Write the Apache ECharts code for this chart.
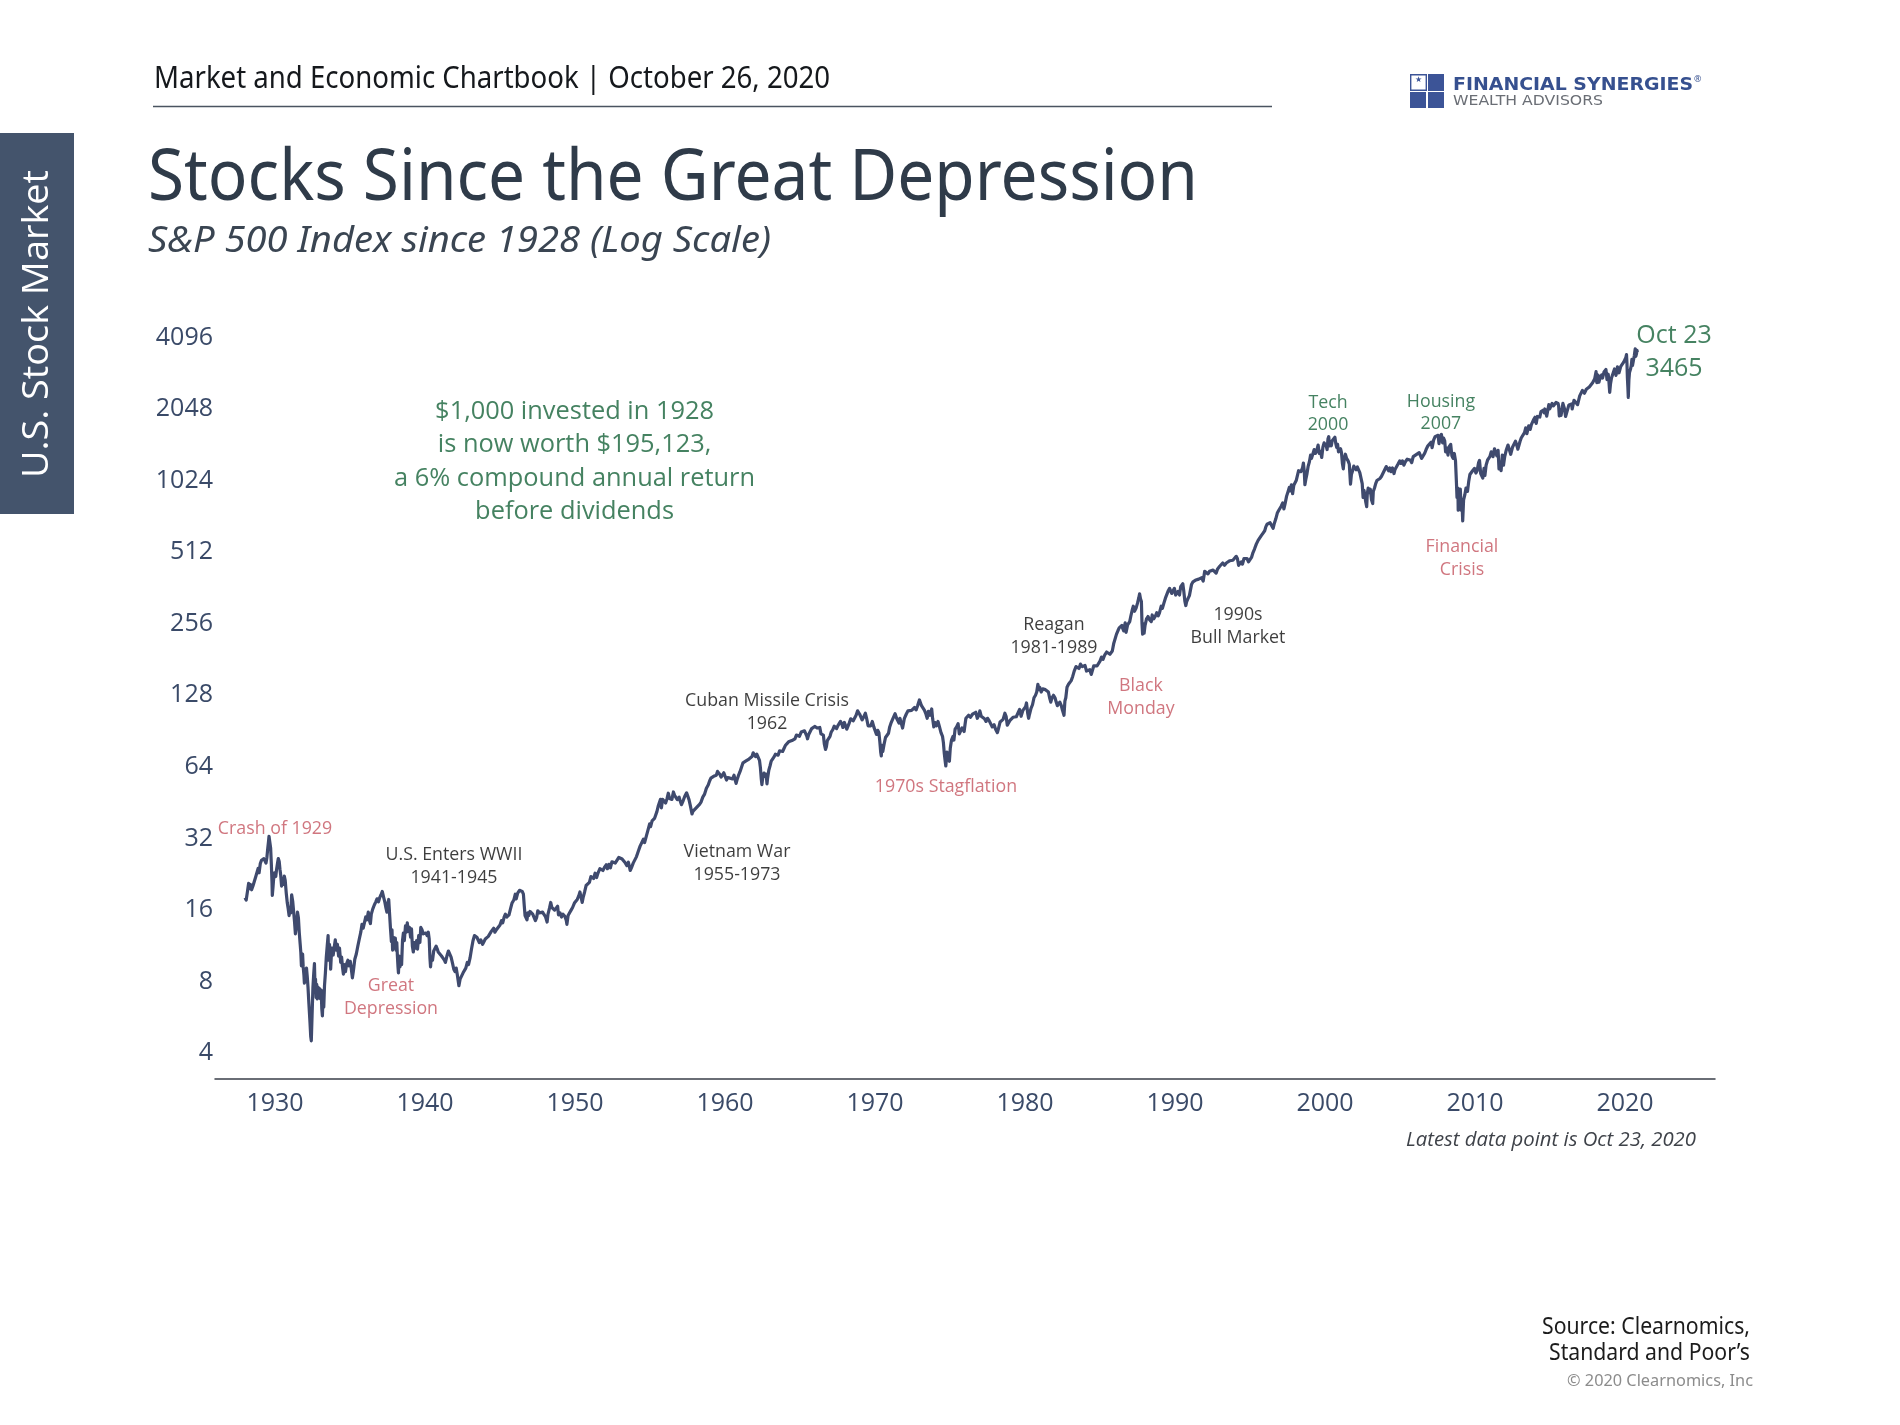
<!DOCTYPE html>
<html><head><meta charset="utf-8"><title>Stocks Since the Great Depression</title>
<script src="https://cdn.jsdelivr.net/npm/echarts@6/dist/echarts.min.js"></script>
<style>html,body{margin:0;padding:0;background:#fff}#c{width:1900px;height:1425px}</style></head>
<body><div id="c"></div>
<script>
const xTicks=[1930,1940,1950,1960,1970,1980,1990,2000,2010,2020];
const yTicks=[4,8,16,32,64,128,256,512,1024,2048,4096];
const d1920s=[[1928.00,17.6],[1928.08,17.2],[1928.17,18.8],[1928.24,20.2],[1928.30,19.2],[1928.37,20.0],[1928.44,19.0],[1928.53,19.7],[1928.62,20.6],[1928.72,21.6],[1928.80,22.0],[1928.88,23.4],[1928.94,22.4],[1929.02,24.5],[1929.10,25.3],[1929.18,24.9],[1929.26,25.7],[1929.34,25.9],[1929.40,24.6],[1929.46,26.0],[1929.52,28.5],[1929.57,30.4],[1929.60,31.9],[1929.66,30.0],[1929.71,28.4],[1929.76,24.0],[1929.80,20.4],[1929.82,18.0],[1929.87,19.6],[1929.92,21.6],[1929.97,22.4]];
const d1930s=[[1930.05,21.6],[1930.10,23.0],[1930.17,24.6],[1930.22,25.7],[1930.28,25.0],[1930.33,23.2],[1930.38,21.9],[1930.44,19.7],[1930.50,20.6],[1930.55,20.0],[1930.62,21.7],[1930.68,20.8],[1930.75,18.4],[1930.82,16.7],[1930.88,15.8],[1930.94,14.8],[1931.00,15.9],[1931.05,15.2],[1931.11,18.1],[1931.18,17.0],[1931.24,16.8],[1931.30,14.0],[1931.36,12.4],[1931.43,13.4],[1931.50,15.3],[1931.56,14.5],[1931.62,12.5],[1931.68,11.2],[1931.72,10.4],[1931.76,9.1],[1931.80,9.0],[1931.84,10.2],[1931.88,9.0],[1931.93,8.3],[1931.96,7.7],[1932.00,7.6],[1932.05,8.2],[1932.10,8.9],[1932.15,8.2],[1932.20,7.4],[1932.26,6.3],[1932.33,5.3],[1932.38,4.6],[1932.42,4.4],[1932.47,5.6],[1932.53,7.4],[1932.58,8.4],[1932.63,9.3],[1932.67,7.3],[1932.70,8.0],[1932.74,6.7],[1932.78,7.6],[1932.82,6.6],[1932.87,7.4],[1932.92,6.9],[1932.97,7.3],[1933.03,6.6],[1933.08,7.2],[1933.12,6.0],[1933.16,5.6],[1933.20,6.6],[1933.25,6.1],[1933.30,7.5],[1933.36,8.5],[1933.42,9.9],[1933.48,11.0],[1933.54,12.2],[1933.58,9.6],[1933.63,11.2],[1933.68,10.4],[1933.71,8.8],[1933.75,9.9],[1933.80,10.8],[1933.88,10.1],[1933.94,10.8],[1934.02,11.7],[1934.08,10.6],[1934.16,11.2],[1934.24,10.0],[1934.30,10.8],[1934.38,9.4],[1934.44,9.9],[1934.50,9.0],[1934.56,8.4],[1934.62,9.2],[1934.70,8.6],[1934.78,9.3],[1934.86,9.6],[1934.94,9.1],[1935.02,9.5],[1935.08,8.9],[1935.16,8.1],[1935.22,8.6],[1935.32,9.7],[1935.42,10.2],[1935.52,11.0],[1935.62,11.8],[1935.72,12.6],[1935.80,13.6],[1935.88,13.1],[1935.96,13.8],[1936.05,14.6],[1936.13,14.2],[1936.22,15.3],[1936.30,14.1],[1936.36,13.7],[1936.42,15.0],[1936.52,15.8],[1936.62,16.4],[1936.72,16.9],[1936.80,17.4],[1936.90,16.9],[1936.98,17.6],[1937.07,18.1],[1937.15,18.7],[1937.24,17.7],[1937.32,16.9],[1937.40,15.9],[1937.46,15.3],[1937.52,16.6],[1937.58,17.3],[1937.64,15.0],[1937.70,13.0],[1937.76,11.5],[1937.80,12.9],[1937.84,10.6],[1937.90,12.0],[1937.96,10.8],[1938.02,11.9],[1938.07,10.6],[1938.12,11.4],[1938.16,10.0],[1938.20,9.0],[1938.23,8.5],[1938.28,10.0],[1938.33,9.0],[1938.38,9.9],[1938.44,9.2],[1938.50,11.6],[1938.56,12.5],[1938.62,11.6],[1938.70,13.4],[1938.76,12.6],[1938.82,13.8],[1938.88,12.7],[1938.96,13.2],[1939.04,12.0],[1939.10,13.0],[1939.16,11.0],[1939.22,10.4],[1939.30,11.4],[1939.38,10.8],[1939.44,11.6],[1939.50,10.7],[1939.58,12.2],[1939.66,11.4],[1939.72,13.2],[1939.80,12.9],[1939.88,12.4],[1939.96,12.6]];
const d1940s=[[1940.06,12.5],[1940.14,12.2],[1940.22,12.6],[1940.28,11.8],[1940.33,9.8],[1940.37,9.0],[1940.42,9.9],[1940.50,9.6],[1940.58,10.5],[1940.66,10.3],[1940.74,11.0],[1940.82,10.7],[1940.88,10.4],[1941.00,10.5],[1941.10,10.0],[1941.20,9.8],[1941.30,9.6],[1941.36,9.4],[1941.46,10.0],[1941.56,10.5],[1941.64,10.4],[1941.74,9.9],[1941.84,9.3],[1941.92,8.8],[1942.00,8.6],[1942.08,8.9],[1942.16,8.3],[1942.26,7.5],[1942.34,8.0],[1942.44,7.9],[1942.54,8.5],[1942.62,8.4],[1942.72,8.9],[1942.82,9.4],[1942.90,9.2],[1943.00,9.8],[1943.10,10.7],[1943.20,11.6],[1943.30,12.2],[1943.36,12.4],[1943.46,12.0],[1943.56,11.9],[1943.62,11.4],[1943.72,11.7],[1943.84,11.2],[1943.92,11.3],[1944.02,11.8],[1944.12,11.7],[1944.22,12.1],[1944.30,12.0],[1944.42,12.7],[1944.50,12.5],[1944.58,13.1],[1944.66,12.6],[1944.76,12.9],[1944.88,13.0],[1945.00,13.5],[1945.10,14.1],[1945.18,13.8],[1945.28,14.6],[1945.36,15.0],[1945.46,14.6],[1945.60,14.9],[1945.70,15.8],[1945.80,16.7],[1945.92,17.2],[1946.02,18.2],[1946.08,17.4],[1946.18,18.4],[1946.30,18.9],[1946.40,19.2],[1946.48,18.7],[1946.56,18.2],[1946.62,16.2],[1946.67,14.8],[1946.74,15.0],[1946.80,14.2],[1946.86,15.2],[1946.92,14.8],[1947.00,15.4],[1947.10,15.6],[1947.18,15.0],[1947.26,14.9],[1947.36,14.1],[1947.44,14.5],[1947.52,15.5],[1947.62,15.2],[1947.72,15.0],[1947.84,15.3],[1947.92,15.0],[1948.04,14.6],[1948.14,13.9],[1948.20,15.0],[1948.30,15.9],[1948.38,16.8],[1948.46,16.0],[1948.56,16.2],[1948.64,15.6],[1948.74,15.5],[1948.84,16.2],[1948.90,14.9],[1949.00,15.2],[1949.10,14.6],[1949.20,15.0],[1949.32,14.7],[1949.42,14.1],[1949.46,13.6],[1949.54,14.8],[1949.64,15.2],[1949.74,15.6],[1949.84,16.0],[1949.96,16.7]];
const d1950s=[[1950.05,17.0],[1950.15,17.3],[1950.25,17.9],[1950.33,18.6],[1950.42,18.5],[1950.48,16.8],[1950.54,17.6],[1950.64,18.6],[1950.74,19.8],[1950.86,19.9],[1950.96,20.4],[1951.06,21.6],[1951.16,21.8],[1951.24,21.2],[1951.34,22.3],[1951.44,21.4],[1951.54,22.4],[1951.66,23.3],[1951.76,23.0],[1951.86,22.9],[1951.96,23.6],[1952.08,24.2],[1952.16,23.3],[1952.26,24.3],[1952.36,23.5],[1952.46,24.9],[1952.58,25.0],[1952.68,24.6],[1952.80,24.3],[1952.92,26.0],[1953.02,26.4],[1953.14,25.6],[1953.24,25.8],[1953.36,24.6],[1953.46,24.0],[1953.56,24.8],[1953.68,22.9],[1953.76,23.5],[1953.88,24.6],[1953.98,24.9],[1954.10,26.2],[1954.22,27.6],[1954.34,29.0],[1954.46,29.2],[1954.56,31.0],[1954.64,30.0],[1954.76,32.0],[1954.86,33.8],[1954.98,36.0],[1955.04,35.0],[1955.14,37.0],[1955.22,36.5],[1955.30,37.9],[1955.38,37.6],[1955.46,40.5],[1955.56,43.0],[1955.64,42.6],[1955.70,45.6],[1955.76,42.0],[1955.84,45.6],[1955.94,45.0],[1956.04,44.0],[1956.14,46.0],[1956.22,48.4],[1956.30,46.0],[1956.38,46.6],[1956.46,45.6],[1956.56,49.0],[1956.64,47.4],[1956.72,47.0],[1956.82,45.5],[1956.94,46.6],[1957.02,44.8],[1957.10,43.3],[1957.22,45.2],[1957.32,47.0],[1957.44,48.6],[1957.52,48.4],[1957.60,45.5],[1957.70,42.6],[1957.80,39.6],[1957.86,40.6],[1957.96,40.2],[1958.08,42.0],[1958.18,41.6],[1958.30,43.4],[1958.40,44.4],[1958.52,46.6],[1958.64,48.0],[1958.76,50.8],[1958.88,52.4],[1958.98,54.6],[1959.06,56.0],[1959.14,55.2],[1959.24,57.0],[1959.34,58.0],[1959.42,57.6],[1959.50,59.8],[1959.58,60.6],[1959.66,58.0],[1959.74,56.6],[1959.82,57.5],[1959.92,59.0]];
const d1960s=[[1960.02,59.8],[1960.10,55.0],[1960.18,56.3],[1960.26,55.4],[1960.34,56.0],[1960.42,56.8],[1960.50,55.6],[1960.60,57.6],[1960.68,55.0],[1960.74,53.2],[1960.82,55.6],[1960.92,58.0],[1961.00,59.6],[1961.10,62.3],[1961.20,65.0],[1961.28,65.6],[1961.40,66.2],[1961.50,65.0],[1961.60,67.4],[1961.70,66.8],[1961.80,69.0],[1961.88,71.6],[1961.96,70.8],[1962.04,69.0],[1962.12,70.6],[1962.22,70.2],[1962.30,66.5],[1962.36,62.0],[1962.42,55.5],[1962.46,52.6],[1962.52,56.5],[1962.60,58.8],[1962.68,57.0],[1962.74,58.2],[1962.80,53.0],[1962.84,56.0],[1962.92,60.5],[1963.00,63.0],[1963.08,66.0],[1963.18,65.0],[1963.28,69.0],[1963.36,70.6],[1963.44,69.6],[1963.54,70.0],[1963.64,73.0],[1963.74,72.6],[1963.84,72.5],[1963.94,74.8],[1964.02,76.8],[1964.12,78.0],[1964.24,79.6],[1964.36,80.0],[1964.46,80.6],[1964.56,82.0],[1964.66,82.0],[1964.76,85.0],[1964.88,84.5],[1964.96,84.0],[1965.08,87.5],[1965.20,87.0],[1965.30,88.6],[1965.38,89.5],[1965.46,84.0],[1965.50,82.0],[1965.58,85.5],[1965.68,88.0],[1965.78,90.5],[1965.88,92.0],[1965.98,92.4],[1966.08,93.5],[1966.14,91.0],[1966.24,90.5],[1966.32,91.5],[1966.40,86.0],[1966.48,86.5],[1966.56,85.0],[1966.62,78.0],[1966.70,74.0],[1966.76,76.0],[1966.82,80.5],[1966.92,81.0],[1967.00,84.0],[1967.08,87.5],[1967.18,89.5],[1967.28,92.6],[1967.36,93.5],[1967.44,90.5],[1967.52,93.0],[1967.60,94.5],[1967.70,97.0],[1967.78,95.0],[1967.86,91.5],[1967.96,96.0],[1968.04,95.0],[1968.12,90.0],[1968.20,88.5],[1968.28,95.5],[1968.38,99.5],[1968.46,100.5],[1968.54,97.5],[1968.64,99.0],[1968.74,103.0],[1968.84,107.5],[1968.92,108.4],[1968.98,104.0],[1969.06,102.5],[1969.14,98.5],[1969.24,101.0],[1969.36,105.0],[1969.44,100.0],[1969.54,93.0],[1969.62,94.5],[1969.72,93.0],[1969.82,97.0],[1969.92,92.0]];
const d1970s=[[1970.02,92.5],[1970.10,85.5],[1970.18,89.0],[1970.26,87.0],[1970.32,80.0],[1970.38,72.0],[1970.42,69.5],[1970.46,77.0],[1970.52,72.5],[1970.60,77.5],[1970.70,83.0],[1970.80,84.5],[1970.90,86.5],[1970.98,92.0],[1971.08,96.0],[1971.20,100.0],[1971.34,104.5],[1971.44,100.0],[1971.50,99.5],[1971.60,95.5],[1971.66,100.0],[1971.74,98.5],[1971.84,91.0],[1971.88,90.5],[1971.96,100.0],[1972.08,104.0],[1972.20,107.5],[1972.32,106.0],[1972.44,108.0],[1972.56,107.0],[1972.64,111.0],[1972.74,108.5],[1972.84,113.0],[1972.96,119.5],[1973.02,119.0],[1973.10,113.0],[1973.20,111.5],[1973.30,108.0],[1973.40,104.0],[1973.48,100.0],[1973.56,107.0],[1973.66,103.0],[1973.78,109.5],[1973.84,100.0],[1973.92,92.0],[1974.00,96.0],[1974.10,93.0],[1974.20,97.0],[1974.30,92.0],[1974.40,87.0],[1974.50,84.0],[1974.56,79.0],[1974.62,71.0],[1974.68,66.0],[1974.72,63.0],[1974.76,62.5],[1974.80,72.0],[1974.84,68.0],[1974.90,69.0],[1974.96,66.0],[1975.02,75.0],[1975.10,81.0],[1975.20,84.0],[1975.26,81.0],[1975.34,90.0],[1975.44,92.0],[1975.54,95.0],[1975.62,86.0],[1975.70,84.5],[1975.80,91.0],[1975.94,88.0],[1976.00,94.0],[1976.06,100.0],[1976.14,101.0],[1976.24,103.0],[1976.36,101.0],[1976.50,104.0],[1976.60,104.5],[1976.72,106.0],[1976.82,100.0],[1976.94,104.0],[1976.99,107.5],[1977.08,102.0],[1977.20,100.5],[1977.30,99.5],[1977.40,97.0],[1977.50,100.0],[1977.60,98.0],[1977.70,96.5],[1977.82,92.0],[1977.94,94.0],[1978.04,90.0],[1978.16,87.0],[1978.24,91.0],[1978.34,96.5],[1978.44,95.0],[1978.54,99.0],[1978.66,105.0],[1978.74,102.0],[1978.82,93.5],[1978.92,96.0],[1979.00,98.0],[1979.10,96.5],[1979.20,101.0],[1979.32,100.5],[1979.42,101.5],[1979.52,103.0],[1979.64,109.0],[1979.74,102.0],[1979.86,108.0],[1979.96,107.0]];
const d1980s=[[1980.04,112],[1980.10,116],[1980.18,105],[1980.24,100],[1980.30,104],[1980.40,110],[1980.50,114],[1980.60,122],[1980.70,125],[1980.78,129],[1980.86,139],[1980.92,132],[1980.98,135],[1981.08,129],[1981.18,133],[1981.26,135],[1981.36,132],[1981.46,132],[1981.56,129],[1981.64,122],[1981.72,117],[1981.80,122],[1981.90,125],[1982.00,122],[1982.08,117],[1982.16,113],[1982.24,111],[1982.32,117],[1982.42,113],[1982.50,108],[1982.60,103],[1982.66,118],[1982.72,122],[1982.80,135],[1982.90,139],[1982.98,140],[1983.08,144],[1983.18,150],[1983.28,158],[1983.40,165],[1983.50,168],[1983.60,162],[1983.70,169],[1983.82,165],[1983.92,166],[1984.00,167],[1984.10,158],[1984.20,157],[1984.32,160],[1984.42,153],[1984.50,151],[1984.58,166],[1984.70,166],[1984.80,166],[1984.92,163],[1985.00,174],[1985.10,181],[1985.20,177],[1985.32,185],[1985.44,190],[1985.56,193],[1985.66,186],[1985.74,183],[1985.82,192],[1985.92,207],[1986.00,210],[1986.10,226],[1986.20,234],[1986.28,240],[1986.36,236],[1986.46,246],[1986.52,238],[1986.58,233],[1986.68,252],[1986.74,230],[1986.84,247],[1986.92,244],[1986.98,255],[1987.06,270],[1987.14,284],[1987.22,296],[1987.30,282],[1987.40,290],[1987.50,305],[1987.58,320],[1987.64,334],[1987.70,318],[1987.76,310],[1987.80,250],[1987.84,226],[1987.88,250],[1987.94,228],[1988.00,245],[1988.10,262],[1988.20,268],[1988.30,260],[1988.42,255],[1988.48,272],[1988.58,262],[1988.68,268],[1988.78,278],[1988.88,270],[1988.96,277],[1989.08,296],[1989.16,290],[1989.26,305],[1989.36,320],[1989.46,320],[1989.56,345],[1989.64,352],[1989.72,347],[1989.78,335],[1989.86,340],[1989.96,352]];
const d1990s=[[1990.04,330],[1990.10,330],[1990.20,342],[1990.30,330],[1990.38,358],[1990.46,363],[1990.52,368],[1990.58,345],[1990.66,310],[1990.72,298],[1990.78,310],[1990.88,320],[1990.96,328],[1991.04,330],[1991.10,365],[1991.20,375],[1991.30,380],[1991.40,382],[1991.46,375],[1991.58,385],[1991.68,388],[1991.78,390],[1991.88,378],[1991.98,415],[1992.08,412],[1992.20,405],[1992.30,415],[1992.42,410],[1992.54,420],[1992.64,415],[1992.74,408],[1992.84,425],[1992.98,436],[1993.06,440],[1993.18,450],[1993.30,440],[1993.42,450],[1993.54,448],[1993.66,460],[1993.76,464],[1993.86,462],[1993.98,467],[1994.08,480],[1994.16,470],[1994.24,440],[1994.32,448],[1994.42,455],[1994.50,445],[1994.60,470],[1994.70,465],[1994.80,470],[1994.90,455],[1995.00,460],[1995.10,475],[1995.20,498],[1995.30,515],[1995.42,540],[1995.54,560],[1995.64,560],[1995.74,585],[1995.86,600],[1995.98,615],[1996.06,640],[1996.14,655],[1996.24,650],[1996.34,665],[1996.44,670],[1996.54,630],[1996.62,660],[1996.72,690],[1996.82,730],[1996.92,750],[1997.00,740],[1997.08,780],[1997.18,805],[1997.26,760],[1997.34,800],[1997.44,860],[1997.54,900],[1997.62,935],[1997.68,905],[1997.76,960],[1997.82,940],[1997.84,880],[1997.92,955],[1998.00,970],[1998.08,1000],[1998.16,1050],[1998.24,1100],[1998.32,1120],[1998.40,1090],[1998.50,1130],[1998.56,1185],[1998.62,1090],[1998.66,960],[1998.72,1010],[1998.80,1070],[1998.88,1150],[1998.96,1200],[1999.04,1280],[1999.10,1240],[1999.20,1300],[1999.28,1350],[1999.36,1300],[1999.44,1330],[1999.54,1410],[1999.62,1300],[1999.70,1330],[1999.78,1250],[1999.86,1380],[1999.94,1440]];
const d2000s=[[2000.02,1460],[2000.08,1400],[2000.14,1350],[2000.20,1500],[2000.25,1530],[2000.30,1400],[2000.36,1440],[2000.42,1400],[2000.48,1470],[2000.54,1450],[2000.60,1490],[2000.66,1520],[2000.72,1430],[2000.78,1380],[2000.84,1420],[2000.90,1320],[2000.96,1330],[2001.04,1360],[2001.10,1310],[2001.16,1180],[2001.22,1120],[2001.28,1230],[2001.36,1290],[2001.44,1240],[2001.54,1210],[2001.62,1170],[2001.70,965],[2001.76,1060],[2001.84,1100],[2001.92,1150],[2001.98,1160],[2002.08,1110],[2002.16,1140],[2002.24,1160],[2002.32,1080],[2002.40,1070],[2002.48,970],[2002.54,850],[2002.60,910],[2002.66,900],[2002.72,810],[2002.78,776],[2002.82,880],[2002.88,930],[2002.94,890],[2003.02,920],[2003.10,830],[2003.18,800],[2003.22,900],[2003.30,930],[2003.38,970],[2003.46,1000],[2003.56,990],[2003.66,1020],[2003.76,1040],[2003.86,1060],[2003.98,1110],[2004.08,1145],[2004.16,1130],[2004.24,1100],[2004.32,1130],[2004.40,1090],[2004.50,1130],[2004.60,1070],[2004.66,1110],[2004.76,1120],[2004.86,1170],[2004.98,1210],[2005.06,1180],[2005.16,1210],[2005.26,1160],[2005.36,1200],[2005.48,1230],[2005.58,1240],[2005.68,1220],[2005.78,1190],[2005.88,1260],[2005.98,1250],[2006.08,1285],[2006.18,1295],[2006.28,1310],[2006.36,1325],[2006.44,1240],[2006.54,1270],[2006.64,1300],[2006.74,1350],[2006.86,1400],[2006.98,1425],[2007.08,1450],[2007.14,1375],[2007.24,1480],[2007.34,1530],[2007.44,1515],[2007.54,1550],[2007.60,1430],[2007.68,1530],[2007.76,1565],[2007.84,1440],[2007.90,1510],[2007.98,1470],[2008.04,1320],[2008.12,1370],[2008.20,1280],[2008.28,1390],[2008.38,1420],[2008.46,1270],[2008.54,1240],[2008.62,1300],[2008.70,1210],[2008.76,990],[2008.80,850],[2008.86,930],[2008.88,750],[2008.94,900],[2009.02,920],[2009.08,750],[2009.14,800],[2009.18,676],[2009.24,830],[2009.32,870],[2009.40,930],[2009.50,900],[2009.58,990],[2009.66,1060],[2009.74,1050],[2009.84,1100],[2009.96,1125]];
const d2010s=[[2010.06,1075],[2010.14,1100],[2010.24,1190],[2010.30,1215],[2010.38,1070],[2010.46,1090],[2010.52,1025],[2010.60,1125],[2010.66,1050],[2010.74,1160],[2010.84,1220],[2010.92,1200],[2010.99,1260],[2011.08,1320],[2011.14,1340],[2011.20,1260],[2011.30,1360],[2011.38,1310],[2011.46,1270],[2011.54,1340],[2011.60,1120],[2011.66,1200],[2011.74,1100],[2011.82,1280],[2011.90,1160],[2011.98,1260],[2012.08,1340],[2012.20,1410],[2012.30,1390],[2012.38,1290],[2012.50,1380],[2012.60,1405],[2012.70,1465],[2012.78,1410],[2012.86,1355],[2013.00,1460],[2013.08,1510],[2013.16,1530],[2013.30,1590],[2013.38,1665],[2013.46,1575],[2013.58,1700],[2013.68,1640],[2013.76,1720],[2013.90,1800],[2014.00,1845],[2014.08,1740],[2014.16,1860],[2014.24,1870],[2014.32,1850],[2014.40,1950],[2014.56,1980],[2014.62,1925],[2014.66,2000],[2014.78,1865],[2014.92,2085],[2014.98,2000],[2015.04,2000],[2015.14,2110],[2015.22,2060],[2015.30,2100],[2015.40,2130],[2015.54,2110],[2015.58,2050],[2015.62,1870],[2015.68,1990],[2015.74,1880],[2015.86,2110],[2015.96,2010],[2016.04,1860],[2016.12,1830],[2016.26,2080],[2016.36,2050],[2016.44,2100],[2016.48,2000],[2016.60,2175],[2016.72,2140],[2016.84,2085],[2016.98,2270],[2017.16,2395],[2017.30,2330],[2017.42,2420],[2017.50,2430],[2017.62,2475],[2017.70,2500],[2017.84,2580],[2017.98,2680],[2018.07,2870],[2018.12,2580],[2018.20,2780],[2018.26,2590],[2018.34,2710],[2018.44,2780],[2018.50,2700],[2018.60,2860],[2018.73,2930],[2018.80,2660],[2018.88,2800],[2018.93,2600],[2018.98,2350],[2019.03,2540],[2019.10,2700],[2019.20,2820],[2019.30,2945],[2019.40,2770],[2019.50,3010],[2019.60,2840],[2019.66,2930],[2019.72,3020],[2019.80,3060],[2019.90,3140]];
const d2020s=[[2020.00,3230],[2020.06,3300],[2020.10,3386],[2020.13,3120],[2020.16,2700],[2020.19,2480],[2020.22,2237],[2020.26,2650],[2020.30,2850],[2020.36,2930],[2020.42,3050],[2020.46,3230],[2020.50,3050],[2020.56,3200],[2020.62,3350],[2020.68,3580],[2020.72,3330],[2020.76,3400],[2020.80,3530],[2020.82,3465]];

const red='#c4545f', black='#0c0c0c', green='#17633a';
const noteTexts=['$1,000 invested in 1928\nis now worth $195,123,\na 6% compound annual return\nbefore dividends','Crash of 1929','U.S. Enters WWII\n1941-1945','Great\nDepression','Cuban Missile Crisis\n1962','Vietnam War\n1955-1973','1970s Stagflation','Reagan\n1981-1989','Black\nMonday','1990s\nBull Market','Financial\nCrisis','Tech\n2000','Housing\n2007','Oct 23\n3465'];
const noteYears=[1949.97,1930,1941.93,1937.73,1962.8,1960.8,1974.73,1981.93,1987.73,1994.2,2009.13,2000.2,2007.73,2023.27];
const noteLevels=[1215,34.6,24.1,6.75,107,24.8,52,223,124.4,247,475,1924,1944,3492];
const noteColors=[green,red,black,red,black,black,red,black,red,black,red,green,green,green];
const noteSizes=[25.4,17.8,17.8,17.8,17.8,17.8,17.8,17.8,17.8,17.8,17.8,17.8,17.8,25];
const noteLeading=[33.3,23,23,23,23,23,23,23,23,23,23,22.5,22.5,33];

const history=[].concat(d1920s,d1930s,d1940s,d1950s,d1960s,d1970s,d1980s,d1990s,d2000s,d2010s,d2020s);
const ctx=document.createElement('canvas').getContext('2d');
function fit(text,font,width){ctx.font=font;return width/ctx.measureText(text).width;}
function T(text,x,y,font,fill,width,align,rot){
  return {type:'text',x,y,rotation:rot||0,scaleX:width?fit(text,font,width):1,z:10,
    style:{text,x:0,y:0,font,fill,align:align||'left',verticalAlign:'middle'}};
}
const blue='#3c5497';
const head='"Noto Sans"';
const graphics=[
 {type:'rect',shape:{x:0,y:133,width:74,height:381},style:{fill:'#44546c'}},
 T('U.S. Stock Market',37.5,324,'37px "Open Sans"','#ffffff',308,'center',Math.PI/2),
 T('Market and Economic Chartbook | October 26, 2020',154,79.5,'30px '+head,'#15181c',676),
 {type:'line',shape:{x1:153,y1:106.5,x2:1272,y2:106.5},style:{stroke:'#4a5460',lineWidth:1.5}},
 T('Stocks Since the Great Depression',148,179,'72px '+head,'#2f3b49',1050),
 T('S&P 500 Index since 1928 (Log Scale)',148,241.5,'italic 37px '+head,'#3a4552',623),
 // logo
 {type:'rect',shape:{x:1410.7,y:74.7,width:15.6,height:15.6},style:{fill:'#fff',stroke:blue,lineWidth:1.4}},
 {type:'rect',shape:{x:1428,y:74,width:16,height:17},style:{fill:blue}},
 {type:'rect',shape:{x:1410,y:92,width:16,height:16},style:{fill:blue}},
 {type:'rect',shape:{x:1428,y:92,width:16,height:16},style:{fill:blue}},
 T('★',1415,80,'8px "DejaVu Sans"',blue),
 T('FINANCIAL SYNERGIES',1453,85,'bold 18px "DejaVu Sans"','#36508f',240),
 T('®',1694,79,'9px "Open Sans"','#36508f'),
 T('WEALTH ADVISORS',1453,101,'13.5px "DejaVu Sans"','#6a6e75',150),
 // foot
 T('Latest data point is Oct 23, 2020',1406,1140,'italic 20.5px "Open Sans"','#3e4249',290),
 T('Source: Clearnomics,',1750,1327,'23px '+head,'#1c1c1c',208,'right'),
 T('Standard and Poor\u2019s',1750,1353,'23px '+head,'#1c1c1c',201,'right'),
 T('\u00a9 2020 Clearnomics, Inc',1753,1381,'17px '+head,'#8c8c8c',186,'right')
];
const chart=echarts.init(document.getElementById('c'),null,{renderer:'canvas'});
chart.setOption({
 animation:false,backgroundColor:'#fff',
 textStyle:{fontFamily:'"Open Sans"'},
 grid:{left:215,right:185,top:313.5,bottom:346,containLabel:false},
 xAxis:{type:'value',min:1926,max:2026,
  splitLine:{show:false},axisTick:{show:false},
  axisLine:{show:true,lineStyle:{color:'#3a3f4a',width:1.5}},
  axisLabel:{customValues:xTicks,fontSize:25,color:'#3a4a68',margin:12,formatter:v=>String(v)}},
 yAxis:{type:'log',logBase:2,min:3.04,max:5042,
  splitLine:{show:false},axisTick:{show:false},axisLine:{show:false},
  axisLabel:{customValues:yTicks,fontSize:25,color:'#3a4a68',margin:2,verticalAlign:'top',lineHeight:5,formatter:v=>String(Math.round(v))}},
 graphic:graphics,
 series:[
  {type:'line',data:history,showSymbol:false,smooth:false,lineStyle:{color:'#3f4a6e',width:3.2,join:'round'},silent:true,z:3},
  {type:'scatter',symbolSize:1,itemStyle:{color:'rgba(0,0,0,0)'},silent:true,z:5,
   data:noteTexts.map((t,i)=>({name:t,value:[noteYears[i],noteLevels[i]],
     label:{show:true,position:'inside',offset:[0,1.2],formatter:t,color:noteColors[i],fontSize:noteSizes[i],lineHeight:noteLeading[i],align:'center',verticalAlign:'middle'}}))}
 ]
});
</script></body></html>
